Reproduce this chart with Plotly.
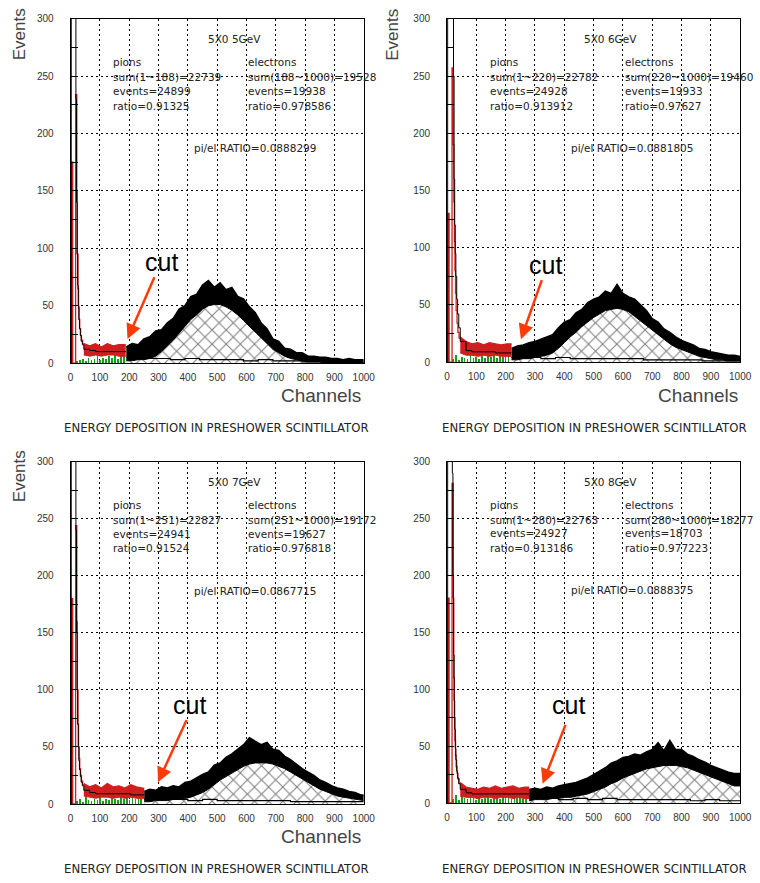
import plotly.graph_objects as go

W, H = 760, 883

# ---------------- data ----------------
PANEL_TITLES = ["5X0 5GeV", "5X0 6GeV", "5X0 7GeV", "5X0 8GeV"]
CUTS = [188, 220, 251, 280]
PION_SUM = [22739, 22782, 22827, 22763]
PION_EVENTS = [24899, 24928, 24941, 24927]
PION_RATIO = ["0.91325", "0.913912", "0.91524", "0.913186"]
EL_SUM = [19528, 19460, 19172, 18277]
EL_EVENTS = [19938, 19933, 19627, 18703]
EL_RATIO = ["0.978586", "0.97627", "0.976818", "0.977223"]
PIEL_RATIO = ["0.0888299", "0.0881805", "0.0867715", "0.0888375"]

X_TICKS = [0, 100, 200, 300, 400, 500, 600, 700, 800, 900, 1000]
Y_TICKS = [0, 50, 100, 150, 200, 250, 300]

BLACK_SPIKE_X = [0, 2, 18, 20, 22, 24, 26, 28, 30, 33, 36, 40]
RED_SPIKE_X = [0, 3, 7, 17, 21, 23, 25, 27, 29, 31, 34, 37, 41]

P1_BLACK_SPIKE = [0, 330, 230, 140, 95, 68, 50, 38, 30, 24, 19, 16]
P1_RED_SPIKE = [0, 175, 0, 234, 150, 95, 65, 48, 38, 30, 24, 20, 17]
P1_LOW_X = list(range(45, 180, 20))
P1_BLACK_FLAT = [12, 11, 10, 10, 10, 10, 10]
P1_RED_HI = [17, 15, 17, 14, 17, 15, 16]
P1_RED_LO = [7, 6, 7, 6, 7, 7, 6]
P1_GREEN_X = list(range(20, 185, 10))
P1_GREEN = [2, 3, 4, 2, 5, 3, 4, 6, 3, 5, 4, 6, 5, 7, 4, 6, 7]
P1_EL_X = list(range(190, 1000, 20))
P1_EL_HI = [14, 17, 16, 21, 23, 28, 29, 35, 39, 47, 50, 58, 60, 68, 72, 66, 70, 64, 66, 58,
            56, 49, 44, 35, 30, 21, 19, 13, 12, 9, 9, 6, 6, 5, 5, 4, 4, 3, 4, 3, 3]
P1_EL_LO = [2, 2, 3, 3, 4, 6, 10, 15, 20, 26, 32, 38, 42, 47, 50, 51, 51, 49, 46, 42,
            37, 32, 27, 22, 17, 12, 9, 6, 4, 3, 2, 1, 1, 1, 0, 0, 0, 0, 0, 0, 0]
P1_TAIL_X = list(range(190, 1000, 50))
P1_TAIL = [5, 4, 4, 3, 4, 3, 3, 3, 2, 3, 2, 2, 1, 1, 1, 1, 1]

P2_BLACK_SPIKE = [0, 330, 330, 330, 250, 160, 120, 95, 75, 55, 42, 30]
P2_RED_SPIKE = [0, 130, 0, 257, 190, 140, 105, 80, 60, 45, 34, 26, 21]
P2_LOW_X = list(range(45, 215, 20))
P2_BLACK_FLAT = [18, 10, 9, 9, 9, 9, 8, 8, 8]
P2_RED_HI = [22, 18, 16, 17, 15, 17, 16, 15, 16]
P2_RED_LO = [8, 6, 6, 5, 6, 5, 6, 5, 5]
P2_GREEN_X = list(range(20, 215, 10))
P2_GREEN = [3, 6, 2, 5, 4, 3, 6, 4, 5, 3, 6, 4, 7, 5, 6, 4, 7, 5, 6, 7]
P2_EL_X = list(range(220, 1001, 20))
P2_EL_HI = [12, 14, 15, 17, 18, 20, 22, 24, 30, 35, 37, 43, 46, 52, 55, 57, 62, 60, 68, 60,
            57, 55, 50, 45, 38, 35, 29, 26, 22, 19, 17, 15, 12, 11, 9, 8, 7, 6, 6, 5]
P2_EL_LO = [2, 2, 3, 3, 4, 5, 6, 8, 12, 17, 22, 26, 31, 35, 39, 42, 45, 46, 47, 46,
            44, 40, 36, 32, 28, 24, 20, 16, 13, 11, 9, 7, 5, 4, 3, 2, 2, 1, 1, 1]
P2_TAIL_X = list(range(220, 1000, 50))
P2_TAIL = [4, 4, 3, 4, 3, 3, 3, 3, 3, 2, 2, 2, 2, 1, 1, 1]

P3_BLACK_SPIKE = [0, 330, 240, 150, 100, 70, 50, 38, 30, 24, 19, 16]
P3_RED_SPIKE = [0, 180, 0, 244, 160, 100, 70, 50, 40, 31, 25, 20, 17]
P3_LOW_X = list(range(45, 250, 20))
P3_BLACK_FLAT = [12, 10, 9, 9, 9, 9, 9, 9, 8, 8, 8]
P3_RED_HI = [18, 15, 17, 14, 18, 15, 16, 14, 17, 15, 14]
P3_RED_LO = [7, 6, 5, 6, 6, 5, 6, 5, 6, 5, 5]
P3_GREEN_X = list(range(20, 245, 10))
P3_GREEN = [3, 5, 2, 6, 4, 3, 5, 4, 6, 3, 5, 4, 6, 5, 4, 7, 5, 6, 4, 7, 5, 6, 7]
P3_EL_X = [251] + list(range(270, 1000, 20))
P3_EL_HI = [11, 13, 12, 15, 14, 16, 15, 19, 20, 23, 26, 28, 34, 36, 41, 44, 48, 52, 58, 55,
            52, 54, 48, 47, 42, 39, 35, 31, 28, 25, 21, 19, 16, 14, 13, 11, 10, 8]
P3_EL_LO = [2, 2, 3, 3, 3, 4, 4, 5, 6, 8, 10, 13, 17, 21, 24, 27, 30, 33, 35, 36,
            36, 36, 35, 33, 31, 28, 25, 22, 19, 16, 13, 11, 9, 7, 6, 5, 4, 3]
P3_TAIL_X = [251] + list(range(300, 1000, 50))
P3_TAIL = [4, 4, 4, 3, 4, 3, 3, 3, 3, 3, 2, 2, 2, 2, 2]

P4_BLACK_SPIKE = [0, 330, 290, 200, 130, 90, 65, 48, 38, 28, 22, 17]
P4_RED_SPIKE = [0, 180, 0, 281, 180, 110, 75, 55, 42, 32, 26, 21, 17]
P4_LOW_X = list(range(45, 275, 20))
P4_BLACK_FLAT = [12, 9, 8, 8, 8, 8, 8, 8, 8, 8, 8, 8]
P4_RED_HI = [18, 14, 13, 12, 14, 13, 15, 13, 14, 15, 13, 14]
P4_RED_LO = [6, 5, 5, 4, 5, 5, 4, 5, 5, 4, 5, 4]
P4_GREEN_X = list(range(20, 275, 10))
P4_GREEN = [4, 7, 3, 6, 5, 4, 7, 5, 3, 6, 4, 5, 7, 4, 6, 5, 4, 6, 5, 7, 4, 6, 5, 7, 6, 8]
P4_EL_X = list(range(280, 1000, 20))
P4_EL_HI = [12, 13, 12, 14, 13, 15, 16, 17, 18, 20, 22, 25, 28, 31, 35, 37, 40, 41, 43, 42,
            45, 47, 53, 46, 55, 47, 47, 43, 41, 38, 36, 33, 31, 29, 27, 26]
P4_EL_LO = [2, 3, 3, 3, 4, 4, 5, 5, 6, 7, 8, 10, 12, 14, 17, 19, 22, 24, 26, 28,
            30, 31, 32, 33, 33, 33, 32, 31, 29, 27, 25, 23, 21, 19, 17, 15]
P4_TAIL_X = list(range(280, 1000, 50))
P4_TAIL = [4, 4, 3, 4, 3, 4, 3, 3, 3, 3, 3, 2, 3, 2, 2]

PANEL_DATA = [
    dict(bs=P1_BLACK_SPIKE, rs=P1_RED_SPIKE, lx=P1_LOW_X, bf=P1_BLACK_FLAT, rh=P1_RED_HI, rl=P1_RED_LO,
         gx=P1_GREEN_X, g=P1_GREEN, ex=P1_EL_X, eh=P1_EL_HI, el=P1_EL_LO, tx=P1_TAIL_X, t=P1_TAIL),
    dict(bs=P2_BLACK_SPIKE, rs=P2_RED_SPIKE, lx=P2_LOW_X, bf=P2_BLACK_FLAT, rh=P2_RED_HI, rl=P2_RED_LO,
         gx=P2_GREEN_X, g=P2_GREEN, ex=P2_EL_X, eh=P2_EL_HI, el=P2_EL_LO, tx=P2_TAIL_X, t=P2_TAIL),
    dict(bs=P3_BLACK_SPIKE, rs=P3_RED_SPIKE, lx=P3_LOW_X, bf=P3_BLACK_FLAT, rh=P3_RED_HI, rl=P3_RED_LO,
         gx=P3_GREEN_X, g=P3_GREEN, ex=P3_EL_X, eh=P3_EL_HI, el=P3_EL_LO, tx=P3_TAIL_X, t=P3_TAIL),
    dict(bs=P4_BLACK_SPIKE, rs=P4_RED_SPIKE, lx=P4_LOW_X, bf=P4_BLACK_FLAT, rh=P4_RED_HI, rl=P4_RED_LO,
         gx=P4_GREEN_X, g=P4_GREEN, ex=P4_EL_X, eh=P4_EL_HI, el=P4_EL_LO, tx=P4_TAIL_X, t=P4_TAIL),
]

PANELS = [
    dict(x0=69, x1=368, y0=13, y1=362),
    dict(x0=453, x1=752, y0=13, y1=361),
    dict(x0=69, x1=368, y0=462, y1=809),
    dict(x0=453, x1=752, y0=462, y1=808),
]
CUT_TEXT = [(311, 88), (335, 85), (405, 87), (416, 86)]
ARROWS = [((288, 76), (194, 21)), ((325, 73), (252, 20)), ((398, 75), (298, 19)), ((406, 70), (326, 17))]
EVENTS_POS = [(17, 29), (397, 29), (17, 477), None]
CHANNELS_POS = [(367, 395), (752, 395), (367, 842), None]
CAPTION_POS = [(218, 427), (603, 427), (218, 874), (603, 874)]


def px(x):
    return x / W


def py(y):
    return 1 - y / H


def steps(xs, ys, end):
    return list(xs) + [end], list(ys) + [ys[-1]]


RED = "#d01e1e"
GREEN = "#1e9a1e"
TXT_FONT = dict(family="DejaVu Sans", size=10.5, color="#222")

fig = go.Figure()
annotations = []

for i, (p, d) in enumerate(zip(PANELS, PANEL_DATA)):
    n = "" if i == 0 else str(i + 1)
    xa, ya = "x" + n, "y" + n
    cut = CUTS[i]

    # hatched electron histogram (lower edge of the noisy band)
    hx, hy = steps(d["ex"], d["el"], 1000)
    fig.add_trace(go.Scatter(x=hx, y=hy, xaxis=xa, yaxis=ya, mode="lines", line_shape="linear",
                             line=dict(color="black", width=1), fill="tozeroy",
                             fillpattern=dict(shape="x", size=10, solidity=0.2,
                                              fgcolor="black", bgcolor="white"),
                             hoverinfo="skip"))
    # noisy electron band
    ux, uy = steps(d["ex"], d["eh"], 1000)
    fig.add_trace(go.Scatter(x=ux, y=uy, xaxis=xa, yaxis=ya, mode="lines", line_shape="linear",
                             line=dict(color="black", width=1.5), fill="tonexty",
                             fillcolor="black", hoverinfo="skip"))
    # pion tail above the cut
    tx, ty = steps(d["tx"], d["t"], 1000)
    fig.add_trace(go.Scatter(x=tx, y=ty, xaxis=xa, yaxis=ya, mode="lines", line_shape="hv",
                             line=dict(color="black", width=1.2), hoverinfo="skip"))
    # red pion band below the cut
    rlx, rly = steps(d["lx"], d["rl"], cut)
    fig.add_trace(go.Scatter(x=rlx, y=rly, xaxis=xa, yaxis=ya, mode="lines", line_shape="linear",
                             line=dict(color=RED, width=1), hoverinfo="skip"))
    rhx, rhy = steps(d["lx"], d["rh"], cut)
    fig.add_trace(go.Scatter(x=rhx, y=rhy, xaxis=xa, yaxis=ya, mode="lines", line_shape="linear",
                             line=dict(color=RED, width=1.2), fill="tonexty",
                             fillcolor=RED, hoverinfo="skip"))
    # green electrons below the cut
    fig.add_trace(go.Bar(x=d["gx"], y=d["g"], xaxis=xa, yaxis=ya, width=2.5,
                         marker=dict(color=GREEN, line=dict(width=0)), hoverinfo="skip"))
    # red pion peak
    rsx, rsy = steps(RED_SPIKE_X, d["rs"], 45)
    fig.add_trace(go.Scatter(x=rsx, y=rsy, xaxis=xa, yaxis=ya, mode="lines", line_shape="hv",
                             line=dict(color=RED, width=1.3), hoverinfo="skip"))
    # black pion histogram
    bx, by = steps(BLACK_SPIKE_X + d["lx"], d["bs"] + d["bf"], cut)
    fig.add_trace(go.Scatter(x=bx, y=by, xaxis=xa, yaxis=ya, mode="lines", line_shape="hv",
                             line=dict(color="black", width=1), hoverinfo="skip"))

    axx = dict(domain=[px(p["x0"]), px(p["x1"])], range=[0, 1000], anchor=ya,
               tickvals=X_TICKS, ticks="", showline=True, linecolor="black", linewidth=1,
               mirror=True, showgrid=True, gridcolor="black", gridwidth=1, griddash="2px,3px",
               zeroline=False, ticklabelstandoff=5,
               tickfont=dict(family="Liberation Sans", size=10, color="#333"))
    axy = dict(domain=[py(p["y1"]), py(p["y0"])], range=[0, 300], anchor=xa,
               tickvals=Y_TICKS, ticks="inside", ticklen=7, tickcolor="black",
               minor=dict(tickvals=[25, 75, 125, 175, 225, 275], ticks="inside", ticklen=7,
                          tickcolor="black", showgrid=False),
               showline=True, linecolor="black", linewidth=1, mirror=True,
               showgrid=True, gridcolor="black", gridwidth=1, griddash="2px,3px",
               zeroline=False, ticklabelstandoff=14,
               tickfont=dict(family="Liberation Sans", size=10, color="#333"))
    fig.layout["xaxis" + n] = axx
    fig.layout["yaxis" + n] = axy

    def txt(x, y, s):
        annotations.append(dict(x=x, y=y, xref=xa, yref=ya, text=s, showarrow=False,
                                xanchor="left", yanchor="middle", font=TXT_FONT))

    txt(462, 282, PANEL_TITLES[i])
    txt(138, 262, "pions")
    txt(138, 249, f"sum(1~{cut})={PION_SUM[i]}")
    txt(138, 237, f"events={PION_EVENTS[i]}")
    txt(138, 224, f"ratio={PION_RATIO[i]}")
    txt(600, 262, "electrons")
    txt(600, 249, f"sum({cut}~1000)={EL_SUM[i]}")
    txt(600, 237, f"events={EL_EVENTS[i]}")
    txt(600, 224, f"ratio={EL_RATIO[i]}")
    txt(415, 187, f"pi/el RATIO={PIEL_RATIO[i]}")

    cx, cy = CUT_TEXT[i]
    annotations.append(dict(x=cx, y=cy, xref=xa, yref=ya, text="cut", showarrow=False,
                            xanchor="center", yanchor="middle",
                            font=dict(family="Liberation Sans", size=25, color="black")))
    (tx0, ty0), (hx0, hy0) = ARROWS[i]
    annotations.append(dict(x=hx0, y=hy0, ax=tx0, ay=ty0, xref=xa, yref=ya, axref=xa, ayref=ya,
                            text="", showarrow=True, arrowhead=2, arrowsize=1.2, arrowwidth=2.5,
                            arrowcolor="#ff3a0a"))

    if EVENTS_POS[i]:
        ex, ey = EVENTS_POS[i]
        annotations.append(dict(x=px(ex), y=py(ey), xref="paper", yref="paper", text="Events",
                                textangle=-90, showarrow=False, xanchor="center", yanchor="middle",
                                font=dict(family="Liberation Sans", size=17, color="#444")))
    if CHANNELS_POS[i]:
        chx, chy = CHANNELS_POS[i]
        annotations.append(dict(x=px(chx), y=py(chy), xref="paper", yref="paper", text="Channels",
                                showarrow=False, xanchor="right", yanchor="middle",
                                font=dict(family="Liberation Sans", size=19, color="#444")))
    cpx, cpy = CAPTION_POS[i]
    annotations.append(dict(x=px(cpx), y=py(cpy), xref="paper", yref="paper",
                            text="ENERGY DEPOSITION IN PRESHOWER SCINTILLATOR",
                            showarrow=False, xanchor="center", yanchor="middle",
                            font=dict(family="DejaVu Sans Condensed, Liberation Sans",
                                      size=13, color="#222")))

fig.update_layout(width=W, height=H, margin=dict(l=0, r=0, t=0, b=0),
                  paper_bgcolor="white", plot_bgcolor="white", showlegend=False,
                  annotations=annotations, bargap=0)

fig.write_html("out.html")
